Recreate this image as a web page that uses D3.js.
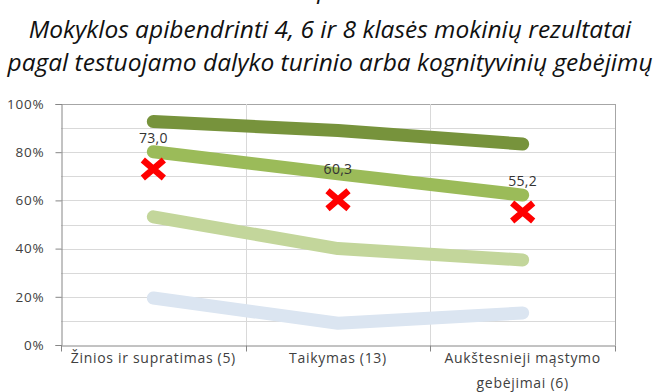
<!DOCTYPE html>
<html>
<head>
<meta charset="utf-8">
<script src="https://cdn.jsdelivr.net/npm/d3@7/dist/d3.min.js"></script>
<style>
  html, body { margin: 0; padding: 0; background: #fff; }
  svg { display: block; }
</style>
</head>
<body>
<svg id="chart" width="656" height="392"></svg>
<script>
// Categories on the x axis (label lines)
const categories = [
  ["Žinios ir supratimas (5)"],
  ["Taikymas (13)"],
  ["Aukštesnieji mąstymo", "gebėjimai (6)"]
];
const catKeys = ["c1", "c2", "c3"];

// Band series, percentages per category
const seriesTop = [92.7, 89.0, 83.4];
const seriesHigh = [80.2, 71.0, 62.2];
const seriesMid = [53.2, 40.0, 35.3];
const seriesLow = [19.5, 9.0, 13.3];

// School results (red markers with labels)
const schoolValues = [73.0, 60.3, 55.2];

const yTicks = [0, 20, 40, 60, 80, 100];
const yGrid = [10, 20, 30, 40, 50, 60, 70, 80, 90, 100];

const figureLabel = "3 pav.";
const titleLines = [
  "Mokyklos apibendrinti 4, 6 ir 8 klasės mokinių rezultatai",
  "pagal testuojamo dalyko turinio arba kognityvinių gebėjimų"
];

const series = [
  { values: seriesLow, color: "#dbe5f1" },
  { values: seriesMid, color: "#c3d69b" },
  { values: seriesHigh, color: "#9bbb59" },
  { values: seriesTop, color: "#77933c" }
];

(function draw() {
  const svg = d3.select("#chart");
  const plotLeft = 61, plotRight = 615, plotTop = 104, plotBottom = 345;

  const x = d3.scaleBand().domain(catKeys).range([plotLeft, plotRight]);
  const y = d3.scaleLinear().domain([0, 100]).range([plotBottom, plotTop]);
  const cx = i => x(catKeys[i]) + x.bandwidth() / 2;

  const fontFam = "'Open Sans', sans-serif";

  // Title block (figure number sits above the top edge)
  svg.append("text")
    .attr("x", 330).attr("y", -2)
    .attr("text-anchor", "middle")
    .style("font-family", fontFam)
    .style("font-style", "italic")
    .style("font-size", "24.5px")
    .attr("fill", "#111")
    .text(figureLabel);
  titleLines.forEach((t, i) => {
    svg.append("text")
      .attr("x", 330).attr("y", 38 + i * 33)
      .attr("text-anchor", "middle")
      .style("font-family", fontFam)
      .style("font-style", "italic")
      .style("font-size", "24.5px")
      .attr("fill", "#111")
      .text(t);
  });

  // Horizontal gridlines
  svg.append("g").selectAll("line").data(yGrid).join("line")
    .attr("x1", plotLeft).attr("x2", plotRight)
    .attr("y1", d => Math.round(y(d)) + 0.5).attr("y2", d => Math.round(y(d)) + 0.5)
    .attr("stroke", d => d === 100 ? "#a6a6a6" : "#d9d9d9").attr("stroke-width", 1);

  // Vertical gridlines at category boundaries, plus the right border
  const boundaries = [x("c2"), x("c3"), plotRight];
  svg.append("g").selectAll("line").data(boundaries).join("line")
    .attr("x1", d => Math.round(d) + 0.5).attr("x2", d => Math.round(d) + 0.5)
    .attr("y1", plotTop).attr("y2", plotBottom)
    .attr("stroke", (d, i) => i < 2 ? "#d9d9d9" : "#a6a6a6");

  // Y axis
  const yAxis = d3.axisLeft(y).tickValues(yTicks).tickSize(6).tickPadding(11)
    .tickFormat(d => d + "%");
  const gy = svg.append("g").attr("transform", `translate(${plotLeft + 0.5},0)`).call(yAxis);
  gy.select(".domain").attr("stroke", "#868686");
  gy.selectAll(".tick line").attr("stroke", "#868686");
  gy.selectAll(".tick text")
    .style("font-family", fontFam).style("font-size", "13.5px")
    .style("letter-spacing", "0.8px")
    .attr("fill", "#404040");

  // X axis with ticks at category boundaries
  const gx = svg.append("g").attr("transform", `translate(0,${plotBottom + 0.5})`)
    .call(d3.axisBottom(x).tickSize(0).tickFormat(""));
  gx.select(".domain").attr("stroke", "#868686");
  gx.selectAll(".tick").remove();
  gx.selectAll("line.bt").data([plotLeft, x("c2"), x("c3"), plotRight]).join("line")
    .attr("class", "bt")
    .attr("x1", d => Math.round(d) + 0.5).attr("x2", d => Math.round(d) + 0.5)
    .attr("y1", 0).attr("y2", 6).attr("stroke", "#868686");

  // Category labels
  categories.forEach((lines, i) => {
    lines.forEach((t, j) => {
      svg.append("text")
        .attr("x", cx(i)).attr("y", 363 + j * 25)
        .attr("text-anchor", "middle")
        .style("font-family", fontFam)
        .style("font-size", "14px")
        .style("letter-spacing", "0.7px")
        .attr("fill", "#404040")
        .text(t);
    });
  });

  // Series lines
  const line = d3.line().x((d, i) => cx(i)).y(d => y(d));
  svg.append("g").selectAll("path").data(series).join("path")
    .attr("d", d => line(d.values))
    .attr("fill", "none")
    .attr("stroke", d => d.color)
    .attr("stroke-width", 13)
    .attr("stroke-linecap", "round")
    .attr("stroke-linejoin", "round");

  // School markers with value labels
  const gm = svg.append("g");
  schoolValues.forEach((v, i) => {
    const px = cx(i), py = y(v), sx = 10.5, sy = 9;
    gm.append("path")
      .attr("d", `M${px - sx},${py - sy}L${px + sx},${py + sy}M${px - sx},${py + sy}L${px + sx},${py - sy}`)
      .attr("stroke", "#ff0000").attr("stroke-width", 6.5).attr("fill", "none");
    gm.append("text")
      .attr("x", px).attr("y", py - 26)
      .attr("text-anchor", "middle")
      .style("font-family", fontFam)
      .style("font-size", "14px")
      .style("letter-spacing", "0.3px")
      .attr("fill", "#333")
      .text(d3.format(".1f")(v).replace(".", ","));
  });
})();
</script>
</body>
</html>
